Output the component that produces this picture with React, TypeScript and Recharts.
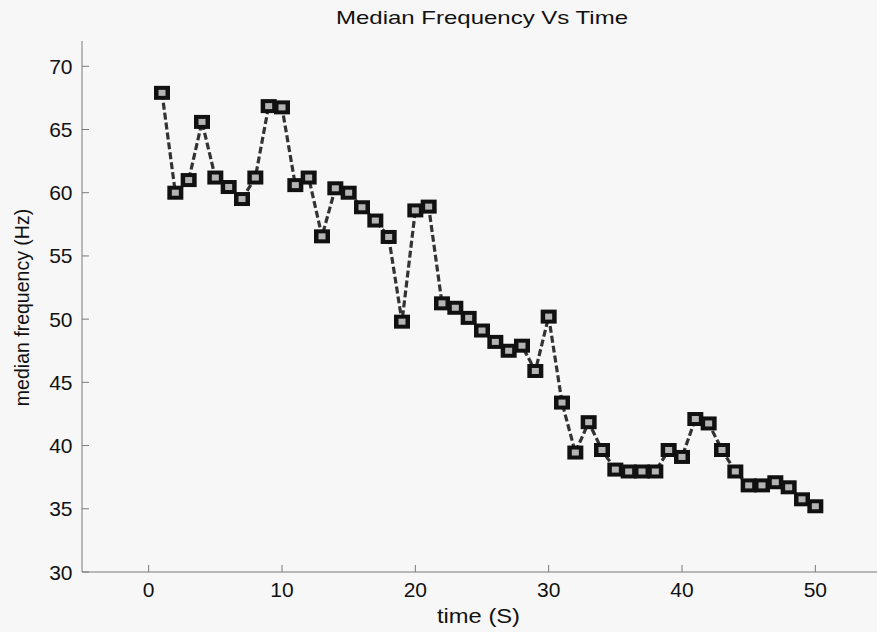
import { LineChart, Line, XAxis, YAxis } from 'recharts';

const times = [
  1, 2, 3, 4, 5, 6, 7, 8, 9, 10,
  11, 12, 13, 14, 15, 16, 17, 18, 19, 20,
  21, 22, 23, 24, 25, 26, 27, 28, 29, 30,
  31, 32, 33, 34, 35, 36, 37, 38, 39, 40,
  41, 42, 43, 44, 45, 46, 47, 48, 49, 50,
];
const medianFreq = [
  67.9, 60.0, 61.0, 65.6, 61.2, 60.45, 59.5, 61.2, 66.85, 66.75,
  60.6, 61.2, 56.55, 60.35, 60.0, 58.85, 57.8, 56.5, 49.8, 58.6,
  58.9, 51.25, 50.9, 50.1, 49.1, 48.2, 47.5, 47.9, 45.9, 50.2,
  43.4, 39.45, 41.85, 39.65, 38.1, 37.95, 37.95, 37.95, 39.65, 39.1,
  42.1, 41.75, 39.65, 37.95, 36.85, 36.85, 37.1, 36.7, 35.75, 35.2,
];
const xTicks = [0, 10, 20, 30, 40, 50];
const yTicks = [30, 35, 40, 45, 50, 55, 60, 65, 70];

const data = times.map((t, i) => ({ t, f: medianFreq[i] }));

const FONT = 'Arial, "Liberation Sans", Helvetica, sans-serif';
const AXIS = '#7a7a7a';

function BottomTick({ x, y, payload }: any) {
  return (
    <g>
      <line x1={x} y1={y} x2={x} y2={y - 7} stroke={AXIS} />
      <text x={x} y={y + 24.5} textAnchor="middle" fontSize={21} fontFamily={FONT} fill="#111">
        {payload.value}
      </text>
    </g>
  );
}

function LeftTick({ x, y, payload }: any) {
  return (
    <g>
      <line x1={x} y1={y} x2={x + 7} y2={y} stroke={AXIS} />
      <text x={x - 9.5} y={y + 7.5} textAnchor="end" fontSize={21} fontFamily={FONT} fill="#111">
        {payload.value}
      </text>
    </g>
  );
}

function TopTick({ x, y }: any) {
  return <line x1={x} y1={y} x2={x} y2={y + 7} stroke={AXIS} />;
}

function RightTick({ x, y }: any) {
  return <line x1={x} y1={y} x2={x - 7} y2={y} stroke={AXIS} />;
}

function SquareDot({ cx, cy }: any) {
  if (cx == null || cy == null) return null;
  return (
    <g>
      <rect x={cx - 8} y={cy - 7} width={16} height={14} fill="#111" />
      <rect x={cx - 3.5} y={cy - 3} width={7} height={6} fill="#b4b4b4" />
    </g>
  );
}

export default function App() {
  return (
    <div style={{ position: 'absolute', left: 0, top: 0, width: 877, height: 632, overflow: 'hidden', background: '#f7f7f7' }}>
      <LineChart width={960} height={632} data={data} margin={{ top: 41, right: 78, left: 0, bottom: 0 }}>
        <XAxis
          dataKey="t" type="number" domain={[-5, 55]} ticks={xTicks} allowDataOverflow
          height={60} tickSize={0} tickMargin={0} tick={<BottomTick />} stroke={AXIS} interval={0}
        />
        <XAxis
          xAxisId="top" orientation="top" dataKey="t" type="number" domain={[-5, 55]} ticks={xTicks}
          height={0} tickSize={0} tickMargin={0} tick={<TopTick />} stroke={AXIS} interval={0}
        />
        <YAxis
          type="number" domain={[30, 72]} ticks={yTicks} allowDataOverflow width={82}
          tickSize={0} tickMargin={0} tick={<LeftTick />} stroke={AXIS} interval={0}
        />
        <YAxis
          yAxisId="right" orientation="right" type="number" domain={[30, 72]} ticks={yTicks} width={0}
          tickSize={0} tickMargin={0} tick={<RightTick />} stroke={AXIS} interval={0}
        />
        <Line
          dataKey="f" stroke="#333" strokeWidth={3.2} strokeDasharray="7 3"
          dot={<SquareDot />} activeDot={false} isAnimationActive={false}
        />
      </LineChart>
      <svg width={877} height={632} style={{ position: 'absolute', left: 0, top: 0, pointerEvents: 'none' }}>
        <text x={482} y={24} textAnchor="middle" fontSize={18.5} fontFamily={FONT} fill="#111"
          textLength={292} lengthAdjust="spacingAndGlyphs">
          Median Frequency Vs Time
        </text>
        <text x={478.5} y={623} textAnchor="middle" fontSize={20} fontFamily={FONT} fill="#111"
          textLength={83} lengthAdjust="spacingAndGlyphs">
          time (S)
        </text>
        <text x={29} y={307.5} textAnchor="middle" fontSize={19.5} fontFamily={FONT} fill="#111"
          transform="rotate(-90 29 307.5)">
          median frequency (Hz)
        </text>
      </svg>
    </div>
  );
}
